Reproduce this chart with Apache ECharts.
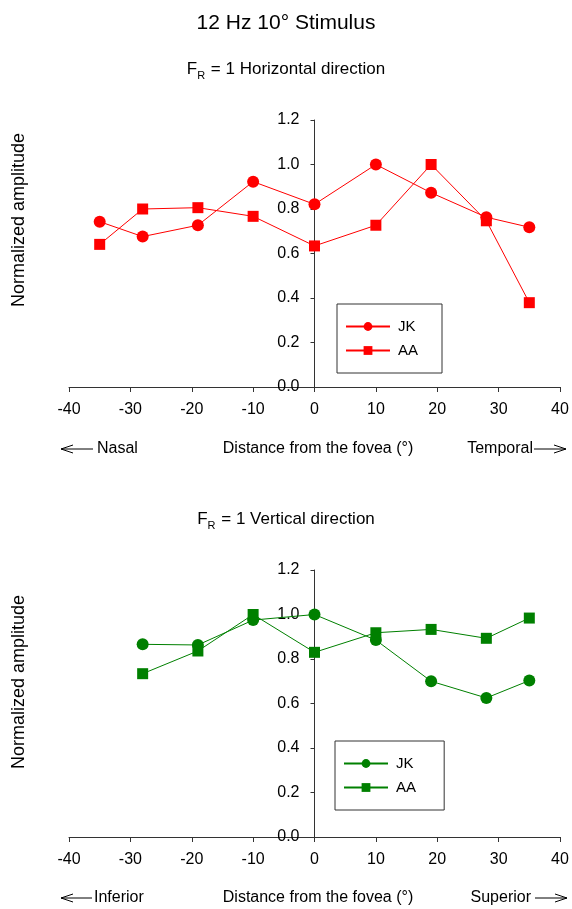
<!DOCTYPE html>
<html>
<head>
<meta charset="utf-8">
<script src="https://cdn.jsdelivr.net/npm/echarts@6/dist/echarts.min.js"></script>
<style>
  html, body { margin: 0; padding: 0; background: #fff; }
  #chart { width: 572px; height: 909px; }
</style>
</head>
<body>
<div id="chart"></div>
<script>
// Eccentricities (degrees from the fovea)
const horizPositions = [-35, -28, -19, -10, 0, 10, 19, 28, 35];
const vertPositions = [-28, -19, -10, 0, 10, 19, 28, 35];

// Normalized amplitudes, horizontal meridian
const horizJK = [0.743, 0.676, 0.727, 0.923, 0.821, 1.0, 0.873, 0.763, 0.718];
const horizAA = [0.641, 0.80, 0.806, 0.767, 0.634, 0.727, 1.0, 0.747, 0.379];

// Normalized amplitudes, vertical meridian
const vertJK = [0.866, 0.863, 0.975, 1.0, 0.885, 0.70, 0.625, 0.703];
const vertAA = [0.734, 0.836, 1.0, 0.83, 0.918, 0.933, 0.893, 0.984];

const subjects = ['JK', 'AA'];
const xTicks = [-40, -30, -20, -10, 0, 10, 20, 30, 40];
const yTicks = [0.0, 0.2, 0.4, 0.6, 0.8, 1.0, 1.2];

const FONT = 'Liberation Sans, Arial, sans-serif';
const RED = '#ff0000';
const GREEN = '#008000';
const AXIS = '#333';

const W = 572;
const GRID_LEFT = 69, GRID_RIGHT = 12;
const GRID_W = W - GRID_LEFT - GRID_RIGHT;
const X_MIN = xTicks[0], X_MAX = xTicks[xTicks.length - 1];
// The y axis crosses the x axis at 0: shift it inwards by that fraction of the grid width
const Y_AXIS_SHIFT = -GRID_W * (0 - X_MIN) / (X_MAX - X_MIN);

const zip = (xs, ys) => xs.map((x, i) => [x, ys[i]]);

function xAxisFor(gridIndex) {
  return {
    type: 'value', gridIndex,
    min: X_MIN, max: X_MAX, interval: 10,
    axisLine: { onZero: true, lineStyle: { color: AXIS, width: 1 } },
    axisTick: { show: true, inside: false, length: 5, lineStyle: { color: AXIS } },
    axisLabel: { color: '#000', fontSize: 16, fontFamily: FONT, margin: 15, showMinLabel: true, showMaxLabel: true },
    splitLine: { show: false }
  };
}
function yAxisFor(gridIndex) {
  return {
    type: 'value', gridIndex, position: 'left', offset: Y_AXIS_SHIFT,
    min: yTicks[0], max: yTicks[yTicks.length - 1], interval: 0.2,
    axisLine: { show: true, onZero: false, lineStyle: { color: AXIS, width: 1 } },
    axisTick: { show: true, inside: false, length: 4, lineStyle: { color: AXIS } },
    axisLabel: { color: '#000', fontSize: 16, fontFamily: FONT, margin: 15,
      formatter: v => v.toFixed(1) },
    splitLine: { show: false }
  };
}
function seriesFor(name, xs, ys, color, symbol, idx) {
  return {
    name, type: 'line', xAxisIndex: idx, yAxisIndex: idx,
    data: zip(xs, ys),
    symbol, symbolSize: symbol === 'circle' ? 12 : 11,
    lineStyle: { color, width: 1 }, itemStyle: { color },
    animation: false
  };
}
function legendFor(names, left, top) {
  return {
    data: names.map(s => ({ name: s })),
    orient: 'vertical', left, top,
    itemWidth: 44, itemHeight: 11, itemGap: 9,
    padding: [15, 24, 15, 8],
    borderColor: '#333', borderWidth: 1,
    textStyle: { color: '#000', fontSize: 15, fontFamily: FONT, padding: [0, 0, 0, 3] }
  };
}
function panelTitle(text, top) {
  return {
    text: '{a|F}{s|R}{a| = 1 ' + text + '}',
    left: 'center', top,
    textStyle: {
      fontWeight: 'normal',
      rich: {
        a: { fontSize: 17, fontWeight: 'normal', fontFamily: FONT, color: '#000' },
        s: { fontSize: 11, fontWeight: 'normal', fontFamily: FONT, color: '#000', padding: [13, 1, 0, 0] }
      }
    }
  };
}
// Long thin arrow with an open head; dir = -1 points left, +1 points right
function arrow(x0, x1, y, dir) {
  const tip = dir < 0 ? x0 : x1;
  const back = tip - dir * 12;
  const st = { stroke: '#000', lineWidth: 1 };
  return [
    { type: 'line', shape: { x1: x0, y1: y, x2: x1, y2: y }, style: st, silent: true },
    { type: 'polyline', shape: { points: [[back, y - 4], [tip, y], [back, y + 4]] }, style: Object.assign({ fill: null }, st), silent: true }
  ];
}
function footer(y, left, right, lx, rx) {
  const st = { fill: '#000', fontSize: 16, fontFamily: FONT, textVerticalAlign: 'middle' };
  return [
    { type: 'text', x: lx, y, style: Object.assign({ text: left, textAlign: 'left' }, st) },
    { type: 'text', x: 318, y, style: Object.assign({ text: 'Distance from the fovea (°)', textAlign: 'center' }, st) },
    { type: 'text', x: rx, y, style: Object.assign({ text: right, textAlign: 'right' }, st) }
  ];
}
// Vertical y-axis caption at the left margin
function yCaption(cy) {
  return {
    type: 'text', x: 19.5, y: cy, rotation: Math.PI / 2,
    style: { text: 'Normalized amplitude', fill: '#000', fontSize: 18, fontFamily: FONT,
      textAlign: 'center', textVerticalAlign: 'middle' }
  };
}

const chart = echarts.init(document.getElementById('chart'), null, { renderer: 'canvas' });
chart.setOption({
  backgroundColor: '#fff',
  animation: false,
  title: [
    { text: '12 Hz 10° Stimulus', left: 'center', top: 8,
      textStyle: { fontSize: 21, fontWeight: 'normal', fontFamily: FONT, color: '#000' } },
    panelTitle('Horizontal direction', 52),
    panelTitle('Vertical direction', 502)
  ],
  grid: [
    { left: GRID_LEFT, right: GRID_RIGHT, top: 120, height: 267 },
    { left: GRID_LEFT, right: GRID_RIGHT, top: 570, height: 267 }
  ],
  xAxis: [xAxisFor(0), xAxisFor(1)],
  yAxis: [yAxisFor(0), yAxisFor(1)],
  // Lower-panel series names carry a trailing space so each legend lists its own pair
  legend: [
    legendFor(['JK', 'AA'], 337, 304),
    legendFor(['JK ', 'AA '], 335, 741)
  ],
  series: [
    seriesFor('JK', horizPositions, horizJK, RED, 'circle', 0),
    seriesFor('AA', horizPositions, horizAA, RED, 'rect', 0),
    seriesFor('JK ', vertPositions, vertJK, GREEN, 'circle', 1),
    seriesFor('AA ', vertPositions, vertAA, GREEN, 'rect', 1)
  ],
  graphic: [].concat(
    [yCaption(220), yCaption(682)],
    footer(449, 'Nasal', 'Temporal', 97, 533),
    arrow(61, 93, 449, -1), arrow(534, 566, 449, 1),
    footer(898, 'Inferior', 'Superior', 94, 531),
    arrow(61, 92, 898, -1), arrow(535, 567, 898, 1)
  )
});
</script>
</body>
</html>
